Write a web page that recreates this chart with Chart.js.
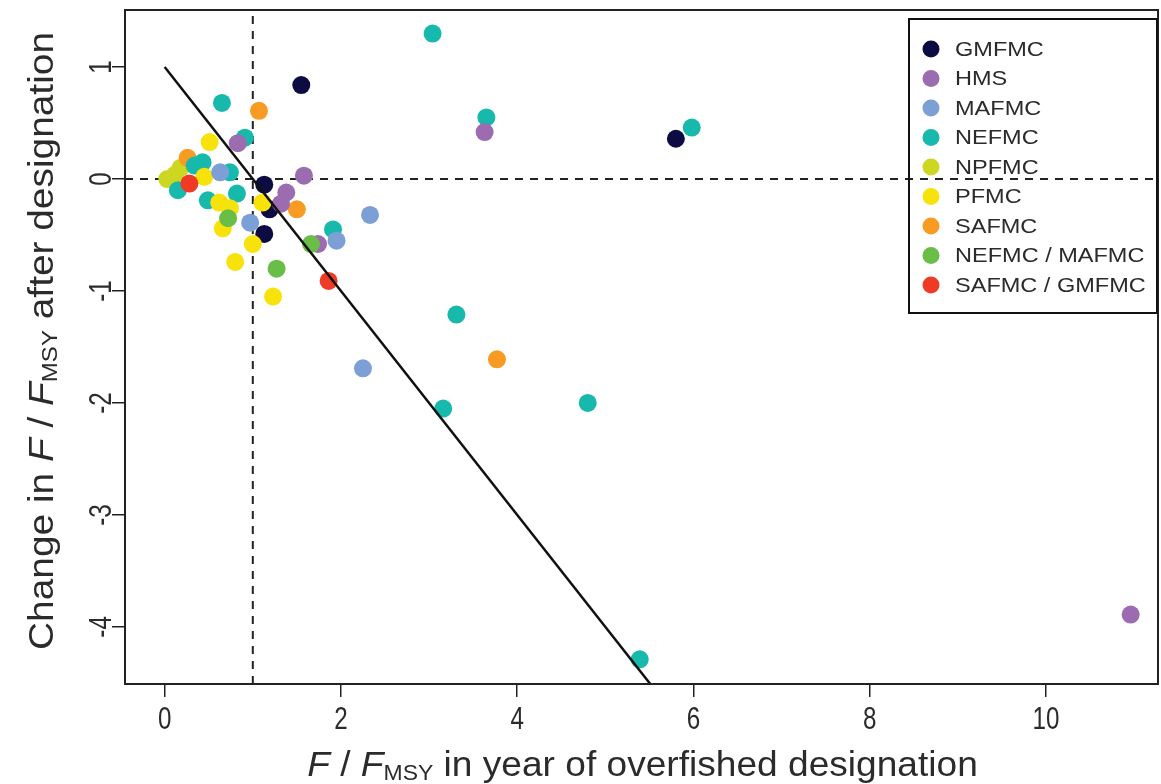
<!DOCTYPE html>
<html><head><meta charset="utf-8">
<script src="https://cdn.jsdelivr.net/npm/chart.js@4.4.1/dist/chart.umd.min.js"></script>
<style>html,body{margin:0;padding:0;background:#fff}#wrap{width:1161px;height:784px;position:relative}</style>
</head><body><div id="wrap"><canvas id="c" width="1161" height="784"></canvas></div>
<script>
// ---- data ----
const councils = ['GMFMC','HMS','MAFMC','NEFMC','NPFMC','PFMC','SAFMC','NEFMC / MAFMC','SAFMC / GMFMC'];
const GMFMC_x = [1.55, 5.80, 1.13, 1.19, 1.13];
const GMFMC_y = [0.84, 0.36, -0.05, -0.27, -0.49];
const HMS_x = [3.63, 10.96, 1.58, 1.38, 1.32, 1.74, 0.83];
const HMS_y = [0.42, -3.89, 0.03, -0.12, -0.22, -0.58, 0.32];
const MAFMC_x = [2.33, 2.25, 1.95, 0.97, 0.63];
const MAFMC_y = [-0.32, -1.69, -0.55, -0.39, 0.06];
const NEFMC_x = [3.04, 3.65, 5.98, 3.31, 3.16, 4.80, 5.39, 1.91, 0.65, 0.91, 0.82, 0.49, 0.74, 0.43, 0.34, 0.15];
const NEFMC_y = [1.30, 0.55, 0.46, -1.21, -2.05, -2.00, -4.29, -0.45, 0.68, 0.37, -0.13, -0.19, 0.06, 0.15, 0.12, -0.10];
const NPFMC_x = [0.03, 0.12, 0.18];
const NPFMC_y = [0.00, 0.04, 0.10];
const PFMC_x = [0.51, 0.45, 0.62, 0.74, 0.66, 0.80, 1.00, 1.11, 1.23];
const PFMC_y = [0.33, 0.02, -0.21, -0.26, -0.44, -0.74, -0.58, -0.21, -1.05];
const SAFMC_x = [1.07, 3.77, 1.50, 0.26];
const SAFMC_y = [0.61, -1.61, -0.27, 0.19];
const NEMA_x = [1.66, 1.27, 0.72];
const NEMA_y = [-0.58, -0.80, -0.35];
const SAGM_x = [1.86, 0.28];
const SAGM_y = [-0.91, -0.04];
const refLineX = [0, 5.51];
const refLineY = [1, -4.51];
const vLineX = [1, 1];
const hLineY = [0, 0];
const xTicks = [0, 2, 4, 6, 8, 10];
const yTicks = [-4, -3, -2, -1, 0, 1];
const xRange = [-0.45, 11.27];
const yRange = [-4.51, 1.51];

// ---- styles ----
const colors = ['#0c0c42','#9b6cb0','#7c9fd5','#17b9ad','#cdd621','#f8e20b','#f79b22','#6abd47','#ef3b25'];
const drawOrder = [6,4,3,7,9,5,8,2,1];
const seriesX = [GMFMC_x,HMS_x,MAFMC_x,NEFMC_x,NPFMC_x,PFMC_x,SAFMC_x,NEMA_x,SAGM_x];
const seriesY = [GMFMC_y,HMS_y,MAFMC_y,NEFMC_y,NPFMC_y,PFMC_y,SAFMC_y,NEMA_y,SAGM_y];
const zip = (xs, ys) => xs.map((v, i) => ({x: v, y: ys[i]}));

const datasets = councils.map((name, i) => ({
  label: name, data: zip(seriesX[i], seriesY[i]),
  backgroundColor: colors[i], borderColor: colors[i], borderWidth: 0,
  pointRadius: 9, pointHoverRadius: 9, order: drawOrder[i]
}));
const FONT = '"Liberation Sans", Arial, sans-serif';
datasets.push({label:'vline', data: zip(vLineX, yRange), showLine:true, pointRadius:0, borderColor:'#222', borderWidth:2, borderDash:[8,7], order: 10});
datasets.push({label:'hline', data: zip(xRange, hLineY), showLine:true, pointRadius:0, borderColor:'#222', borderWidth:2, borderDash:[8,7], order: 10});
datasets.push({label:'ref', data: zip(refLineX, refLineY), showLine:true, pointRadius:0, borderColor:'#111', borderWidth:2.5, order: 0});

function drawRich(ctx, segs, size, cx, cy, sx, rot) {
  const fontFor = s => (s.italic ? 'italic ' : '') + (s.sub ? size*0.62 : size) + 'px ' + FONT;
  let W = 0;
  segs.forEach(s => { ctx.font = fontFor(s); s.w = ctx.measureText(s.t).width; W += s.w; });
  ctx.save();
  ctx.translate(cx, cy);
  if (rot) ctx.rotate(rot);
  ctx.scale(sx, 1);
  ctx.textBaseline = 'alphabetic';
  ctx.textAlign = 'left';
  let x = -W / 2;
  segs.forEach(s => { ctx.font = fontFor(s); ctx.fillText(s.t, x, s.sub ? size*0.45 : size*0.35); x += s.w; });
  ctx.restore();
}

const decor = {
  id: 'decor',
  afterDraw(chart) {
    const {ctx, chartArea: a, scales: {x, y}} = chart;
    ctx.save();
    ctx.strokeStyle = '#222'; ctx.lineWidth = 2;
    ctx.strokeRect(a.left, a.top, a.right - a.left, a.bottom - a.top);
    ctx.fillStyle = '#2b2b2b';
    xTicks.forEach(v => drawRich(ctx, [{t: String(v)}], 31, x.getPixelForValue(v), a.bottom + 34, 0.78, 0));
    yTicks.forEach(v => drawRich(ctx, [{t: String(v)}], 31, a.left - 25, y.getPixelForValue(v), 0.78, -Math.PI/2));
    drawRich(ctx, [{t:'F', italic:true},{t:' / '},{t:'F', italic:true},{t:'MSY', sub:true},{t:' in year of overfished designation'}],
      35, (a.left + a.right)/2 + 1, a.bottom + 80, 1.06, 0);
    drawRich(ctx, [{t:'Change in '},{t:'F', italic:true},{t:' / '},{t:'F', italic:true},{t:'MSY', sub:true},{t:' after designation'}],
      35, 41, (a.top + a.bottom)/2 - 6, 1.11, -Math.PI/2);
    // legend
    const L = {l: 909, t: 19, r: a.right - 1, b: 313};
    ctx.lineWidth = 2; ctx.strokeStyle = '#111';
    ctx.strokeRect(L.l, L.t, L.r - L.l, L.b - L.t);
    councils.forEach((name, i) => {
      const ry = 49 + i * 29.5;
      ctx.beginPath(); ctx.fillStyle = colors[i]; ctx.arc(931, ry, 8.5, 0, Math.PI*2); ctx.fill();
      ctx.fillStyle = '#2b2b2b';
      ctx.save(); ctx.font = '21px ' + FONT; ctx.textBaseline = 'middle'; ctx.textAlign = 'left';
      ctx.translate(955, ry + 1); ctx.scale(1.12, 1); ctx.fillText(name, 0, 0); ctx.restore();
    });
    ctx.restore();
  }
};

new Chart(document.getElementById('c'), {
  type: 'scatter',
  data: {datasets},
  options: {
    responsive: false, animation: false, devicePixelRatio: 1,
    layout: {autoPadding: false, padding: {top: 10, right: 3, left: 0, bottom: 0}},
    plugins: {legend: {display: false}, tooltip: {enabled: false}},
    scales: {
      x: {type: 'linear', min: xRange[0], max: xRange[1],
          afterBuildTicks: s => { s.ticks = xTicks.map(v => ({value: v})); },
          afterFit: s => { s.height = 100; },
          ticks: {display: false},
          grid: {drawOnChartArea: false, drawTicks: true, tickLength: 13, color: '#222', lineWidth: 1.5},
          border: {display: false}},
      y: {type: 'linear', min: yRange[0], max: yRange[1],
          afterBuildTicks: s => { s.ticks = yTicks.map(v => ({value: v})); },
          afterFit: s => { s.width = 125; },
          ticks: {display: false},
          grid: {drawOnChartArea: false, drawTicks: true, tickLength: 13, color: '#222', lineWidth: 1.5},
          border: {display: false}}
    }
  },
  plugins: [decor]
});
</script></body></html>
